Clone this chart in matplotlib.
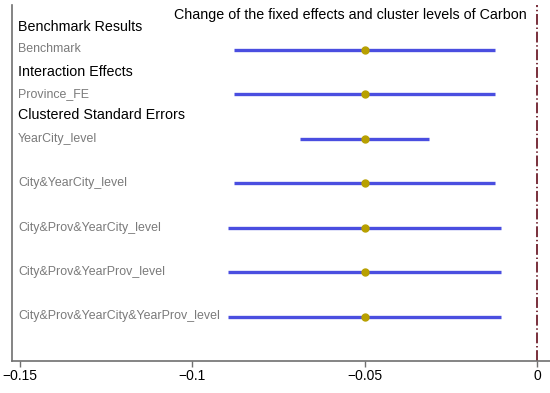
import matplotlib.pyplot as plt

plt.rcParams['font.family'] = ['Liberation Sans', 'DejaVu Sans']

# data
labels = ["Benchmark", "Province_FE", "YearCity_level", "City&YearCity_level",
          "City&Prov&YearCity_level", "City&Prov&YearProv_level",
          "City&Prov&YearCity&YearProv_level"]
coef = [-0.05, -0.05, -0.05, -0.05, -0.05, -0.05, -0.05]
ci_low = [-0.0878, -0.0878, -0.0686, -0.0878, -0.0895, -0.0895, -0.0895]
ci_high = [-0.0122, -0.0122, -0.0314, -0.0122, -0.0105, -0.0105, -0.0105]
headings = ["Benchmark Results", "Interaction Effects", "Clustered Standard Errors"]
xticks = [-0.15, -0.1, -0.05, 0]
xticklabels = ["\u22120.15", "\u22120.1", "\u22120.05", "0"]

fig = plt.figure(figsize=(5.5, 3.93), dpi=100)
ax = fig.add_axes([12 / 550, 1 - 361 / 393, 538 / 550, 356 / 393])

ypos = [7 - i for i in range(len(labels))]

# intervals and points
ax.hlines(ypos, ci_low, ci_high, color='#4a4ee0', lw=2.4, zorder=2)
ax.plot(coef, ypos, 'o', color='#b8a000', ms=5, zorder=3)

# zero line
ln = ax.axvline(0, color='#6e1f2c', lw=1.3, zorder=1)
ln.set_dashes([6, 1.5, 0.8, 1.5])

# row labels and group headings
for y, lab in zip(ypos, labels):
    ax.text(-0.1505, y, lab, fontsize=8.9, color='#7a7a7a', va='center', ha='left')
for y, h in zip([7.5, 6.5, 5.52], headings):
    ax.text(-0.1505, y, h, fontsize=10.3, color='black', va='center', ha='left')

ax.text(-0.1052, 7.78, "Change of the fixed effects and cluster levels of Carbon",
        fontsize=10.3, color='black', va='center', ha='left')

ax.set_xlim(-0.1523, 0.0038)
ax.set_ylim(0, 8)
ax.set_xticks(xticks)
ax.set_xticklabels(xticklabels, fontsize=10)
ax.set_yticks([])

for s in ['top', 'right']:
    ax.spines[s].set_visible(False)
for s in ['left', 'bottom']:
    ax.spines[s].set_color('#707070')
    ax.spines[s].set_linewidth(1.2)
ax.tick_params(axis='x', colors='#707070', labelcolor='black', length=4, width=1, pad=2)

fig.savefig("out.png", dpi=100)
